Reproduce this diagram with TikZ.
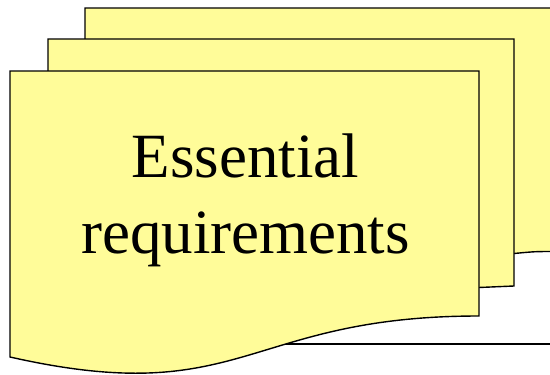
\documentclass[tikz,border=0pt]{standalone}
\usepackage{fontspec}
\setmainfont{Liberation Serif}
\definecolor{docyellow}{RGB}{255,252,153}
\begin{document}
\begin{tikzpicture}[x=1pt,y=-1pt,
  page/.style={fill=docyellow, draw=black, line width=1.4pt, line join=miter},
  rule/.style={draw=black, line width=1.4pt},
  label/.style={font=\fontsize{63}{76}\selectfont, align=center, text=black, inner sep=0pt}]
\useasboundingbox (0,0) rectangle (550,375);
\begin{scope}
\clip (0,0) rectangle (550,375);
% back page
\path[page] (85,8) -- (556,8) -- (556,251.5) .. controls (535,251.5) .. (514,253.5) -- (85,254) -- cycle;
% middle page
\path[page] (48,39) -- (514,39) -- (514,286) .. controls (496,286) .. (479,287.5) -- (48,288) -- cycle;
% horizontal rule behind front page
\coordinate (ruleA) at (262,344);
\coordinate (ruleB) at (552,344);
\draw[rule] (ruleA) -- (ruleB);
% front page
\path[page] (10,71) -- (479,71) -- (479,316) .. controls (244.5,316) and (244.5,410) .. (10,357) -- cycle;
\end{scope}
\node[label] (txt) at (245.5,200) {Essential\\requirements};
\end{tikzpicture}
\end{document}
